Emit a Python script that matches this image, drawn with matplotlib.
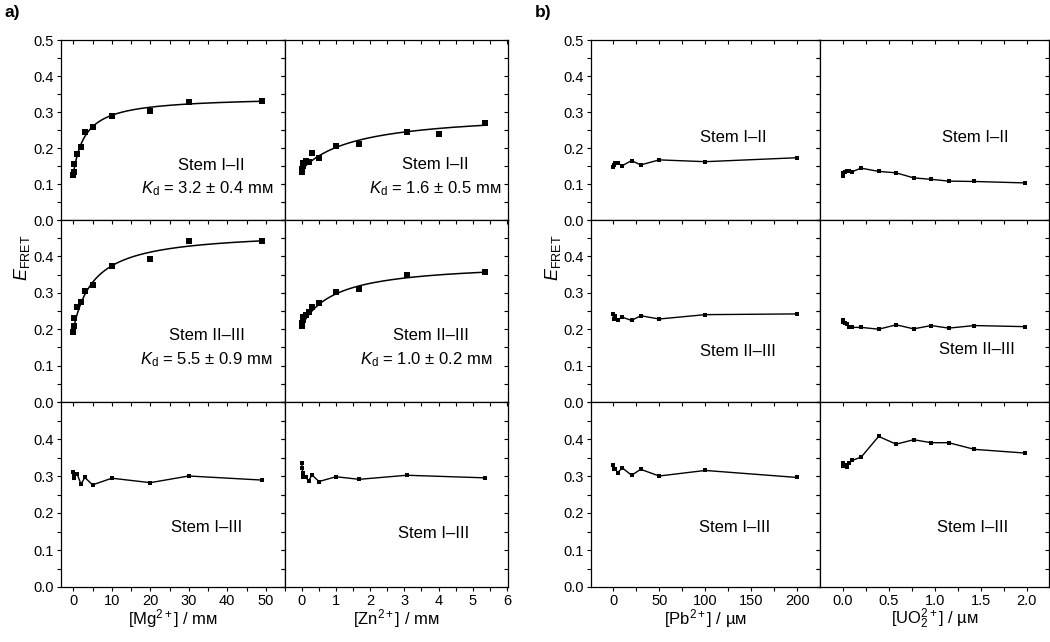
import numpy as np
import matplotlib
matplotlib.use('Agg')
import matplotlib.pyplot as plt
from matplotlib.ticker import MultipleLocator

plt.rcParams['font.family'] = ['Liberation Sans', 'DejaVu Sans']
plt.rcParams['mathtext.fontset'] = 'custom'
plt.rcParams['mathtext.rm'] = 'Liberation Sans'
plt.rcParams['mathtext.it'] = 'Liberation Sans:italic'
plt.rcParams['mathtext.bf'] = 'Liberation Sans:bold'

# ---------------- data ----------------
# Mg2+ (mM)
mg_x = [0, 0.1, 0.25, 1, 2, 3, 5, 10, 20, 30, 49]
mg_12 = [0.126, 0.132, 0.156, 0.182, 0.202, 0.244, 0.258, 0.289, 0.302, 0.327, 0.331]
mg_23 = [0.191, 0.209, 0.232, 0.262, 0.274, 0.305, 0.321, 0.374, 0.394, 0.441, 0.443]
mg_13 = [0.312, 0.294, 0.303, 0.305, 0.278, 0.296, 0.276, 0.294, 0.282, 0.300, 0.289]
mg_fit12 = dict(E0=0.128, dE=0.215, Kd=3.2)
mg_fit23 = dict(E0=0.200, dE=0.270, Kd=5.5)

# Zn2+ (mM)
zn_x12 = [0, 0.01, 0.03, 0.05, 0.12, 0.2, 0.3, 0.5, 1.0, 1.68, 3.07, 4.0, 5.36]
zn_12 = [0.132, 0.142, 0.150, 0.157, 0.165, 0.160, 0.185, 0.172, 0.205, 0.211, 0.244, 0.240, 0.270]
zn_x = [0, 0.01, 0.03, 0.05, 0.12, 0.2, 0.3, 0.5, 1.0, 1.68, 3.07, 5.36]
zn_23 = [0.209, 0.216, 0.225, 0.233, 0.239, 0.246, 0.260, 0.271, 0.302, 0.311, 0.349, 0.356]
zn_13 = [0.336, 0.321, 0.309, 0.296, 0.296, 0.287, 0.303, 0.285, 0.298, 0.291, 0.302, 0.295]
zn_fit12 = dict(E0=0.140, dE=0.160, Kd=1.6)
zn_fit23 = dict(E0=0.210, dE=0.174, Kd=1.0)

# Pb2+ (uM)
pb_x = [0, 0.5, 2, 5, 10, 20, 30, 50, 100, 200]
pb_12 = [0.148, 0.154, 0.158, 0.158, 0.151, 0.165, 0.153, 0.167, 0.162, 0.173]
pb_23 = [0.241, 0.228, 0.235, 0.226, 0.233, 0.224, 0.237, 0.228, 0.240, 0.242]
pb_13 = [0.331, 0.318, 0.320, 0.309, 0.322, 0.302, 0.318, 0.300, 0.315, 0.296]

# UO2 2+ (uM)
uo_x = [0, 0.007, 0.025, 0.043, 0.07, 0.1, 0.2, 0.39, 0.58, 0.77, 0.96, 1.15, 1.43, 1.98]
uo_12 = [0.123, 0.131, 0.134, 0.137, 0.137, 0.134, 0.144, 0.135, 0.131, 0.117, 0.113, 0.108, 0.107, 0.103]
uo_23 = [0.226, 0.221, 0.218, 0.214, 0.207, 0.205, 0.205, 0.200, 0.212, 0.201, 0.210, 0.203, 0.210, 0.207]
uo_13 = [0.334, 0.327, 0.329, 0.325, 0.334, 0.342, 0.351, 0.407, 0.386, 0.398, 0.390, 0.390, 0.372, 0.362]

row_names = ['Stem I\u2013II', 'Stem II\u2013III', 'Stem I\u2013III']
y_ticks = [0.0, 0.1, 0.2, 0.3, 0.4, 0.5]

# ---------------- layout ----------------
W, H = 1050, 642
fig = plt.figure(figsize=(W / 100, H / 100), dpi=100)

col_px = [(61, 285), (285, 508), (591, 820), (820, 1049)]
row_px = [(40, 220), (220, 402), (402, 587)]
xlims = [(-3.2, 55.0), (-0.49, 6.03), (-24, 224.6), (-0.247, 2.24)]
xminor = [5, 0.5, 25, 0.25]
xfmt = ['{:.0f}', '{:.0f}', '{:.0f}', '{:.1f}']
xticks = [np.arange(0, 51, 10), np.arange(0, 7, 1), np.arange(0, 201, 50), np.arange(0, 2.01, 0.5)]
xlabels = ['[Mg$^{2+}$] / m\u1d0d', '[Zn$^{2+}$] / m\u1d0d',
           '[Pb$^{2+}$] / \u00b5\u1d0d', '[UO$_2^{2+}$] / \u00b5\u1d0d']

axes = {}
for c, (x0, x1) in enumerate(col_px):
    for r, (y0, y1) in enumerate(row_px):
        ax = fig.add_axes([x0 / W, 1 - y1 / H, (x1 - x0) / W, (y1 - y0) / H])
        ax.set_xlim(*xlims[c])
        ax.set_ylim(0, 0.5)
        for s in ax.spines.values():
            s.set_linewidth(0.9)
        ax.set_xticks(xticks[c])
        ax.xaxis.set_minor_locator(MultipleLocator(xminor[c]))
        ax.set_yticks(y_ticks)
        ax.yaxis.set_minor_locator(MultipleLocator(0.05))
        ax.tick_params(which='both', direction='out', length=3, width=0.8,
                       labelsize=10.5, pad=2)
        ax.tick_params(which='both', top=True, right=True)
        # top/right ticks inward, bottom/left outward
        for t in ax.xaxis.get_major_ticks() + ax.xaxis.get_minor_ticks():
            t.tick2line.set_marker(matplotlib.lines.TICKDOWN)
        for t in ax.yaxis.get_major_ticks() + ax.yaxis.get_minor_ticks():
            t.tick2line.set_marker(matplotlib.lines.TICKLEFT)
        if r == 2:
            ax.set_xticklabels([xfmt[c].format(v) for v in xticks[c]])
        else:
            ax.set_xticklabels([])
        if c in (0, 2):
            labs = ['{:.1f}'.format(v) for v in y_ticks]
            if r > 0:
                labs[-1] = ''
            ax.set_yticklabels(labs)
        else:
            ax.set_yticklabels([])
        axes[(r, c)] = ax

# ---------------- data drawing ----------------
def hyper(x, E0, dE, Kd):
    x = np.asarray(x, dtype=float)
    return E0 + dE * x / (Kd + x)

ms_a = 3.8
ms_b = 2.8

# Mg column
ax = axes[(0, 0)]
ax.plot(mg_x, mg_12, 's', color='black', ms=ms_a, mew=0)
xx = np.linspace(0, mg_x[-1], 300)
ax.plot(xx, hyper(xx, **mg_fit12), color='black', lw=1.1)
ax = axes[(1, 0)]
ax.plot(mg_x, mg_23, 's', color='black', ms=ms_a, mew=0)
ax.plot(xx, hyper(xx, **mg_fit23), color='black', lw=1.1)
ax = axes[(2, 0)]
ax.plot(mg_x, mg_13, 's-', color='black', ms=3.2, mew=0, lw=1.0)

# Zn column
ax = axes[(0, 1)]
ax.plot(zn_x12, zn_12, 's', color='black', ms=ms_a, mew=0)
xz = np.linspace(0, zn_x12[-1], 300)
ax.plot(xz, hyper(xz, **zn_fit12), color='black', lw=1.1)
ax = axes[(1, 1)]
ax.plot(zn_x, zn_23, 's', color='black', ms=ms_a, mew=0)
ax.plot(xz, hyper(xz, **zn_fit23), color='black', lw=1.1)
ax = axes[(2, 1)]
ax.plot(zn_x, zn_13, 's-', color='black', ms=3.2, mew=0, lw=1.0)

# Pb column
for r, ys in enumerate([pb_12, pb_23, pb_13]):
    axes[(r, 2)].plot(pb_x, ys, 's-', color='black', ms=ms_b, mew=0, lw=1.0)
# UO2 column
for r, ys in enumerate([uo_12, uo_23, uo_13]):
    axes[(r, 3)].plot(uo_x, ys, 's-', color='black', ms=ms_b, mew=0, lw=1.0)

# ---------------- annotations ----------------
fs = 12
stem_pos = {
    (0, 0): (0.67, 0.305), (0, 1): (0.674, 0.307),
    (1, 0): (0.653, 0.363), (1, 1): (0.656, 0.363),
    (2, 0): (0.649, 0.324), (2, 1): (0.665, 0.29),
    (0, 2): (0.622, 0.458), (0, 3): (0.678, 0.458),
    (1, 2): (0.643, 0.275), (1, 3): (0.687, 0.29),
    (2, 2): (0.626, 0.324), (2, 3): (0.665, 0.324),
}
for (r, c), (px, py) in stem_pos.items():
    axes[(r, c)].text(px, py, row_names[r], transform=axes[(r, c)].transAxes,
                      ha='center', va='center', fontsize=fs)

kd_texts = {
    (0, 0): ('3.2', '0.4', (0.653, 0.173)),
    (0, 1): ('1.6', '0.5', (0.673, 0.173)),
    (1, 0): ('5.5', '0.9', (0.649, 0.231)),
    (1, 1): ('1.0', '0.2', (0.634, 0.231)),
}
for (r, c), (kd, err, (px, py)) in kd_texts.items():
    axes[(r, c)].text(px, py, '$K_\\mathrm{d}$ = ' + kd + ' \u00b1 ' + err + ' m\u1d0d',
                      transform=axes[(r, c)].transAxes, ha='center', va='center',
                      fontsize=fs)

for c, lab in enumerate(xlabels):
    x0, x1 = col_px[c]
    fig.text((x0 + x1) / 2 / W, 1 - 619 / H, lab, ha='center', va='center', fontsize=12)

for xpix in (22, 553):
    fig.text(xpix / W, 1 - 258 / H, '$E_\\mathrm{FRET}$', rotation=90,
             ha='center', va='center', fontsize=13)

fig.text(12 / W, 1 - 12 / H, 'a)', fontsize=12.5, fontweight='bold', ha='center', va='center')
fig.text(543 / W, 1 - 12 / H, 'b)', fontsize=12.5, fontweight='bold', ha='center', va='center')

fig.savefig('out.png', dpi=100)
